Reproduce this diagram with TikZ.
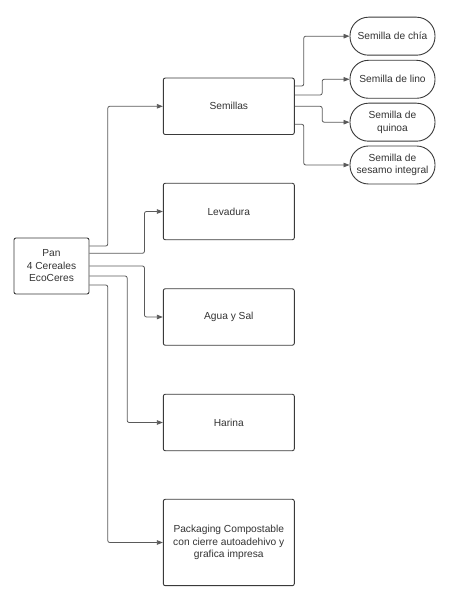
\documentclass[tikz,border=0pt]{standalone}
\usepackage{fontspec}
\setmainfont{Liberation Sans}
\usetikzlibrary{arrows.meta,calc}
\definecolor{txt}{HTML}{333333}
\definecolor{edge}{HTML}{3A3A3A}
\definecolor{conn}{HTML}{5A5A5A}
\begin{document}
\begin{tikzpicture}[x=1pt,y=1pt,
  box/.style={draw=edge,line width=0.9pt,rounded corners=2pt,fill=white,text=txt,
    font=\fontsize{10.2}{12.5}\selectfont,align=center,inner sep=1pt},
  pill/.style={draw=edge,line width=0.9pt,rounded corners=18.5pt,fill=white,text=txt,
    font=\fontsize{10.2}{12.5}\selectfont,align=center,inner sep=1pt,
    minimum width=85pt,minimum height=38pt},
  conn/.style={draw=conn,line width=0.8pt,rounded corners=2pt,
    -{Triangle[length=6pt,width=4.5pt]}}]
\useasboundingbox (0,0) rectangle (449,599);
% main node
\node[box,minimum width=75pt,minimum height=56pt] (pan) at (51.5,333) {Pan\\4 Cereales\\EcoCeres};
% ingredient boxes
\node[box,minimum width=131pt,minimum height=56.5pt] (sem) at (228.8,492.7) {Semillas};
\node[box,minimum width=131pt,minimum height=56.5pt] (lev) at (228.8,387.5) {Levadura};
\node[box,minimum width=131pt,minimum height=56.5pt] (agua) at (228.8,282) {Agua y Sal};
\node[box,minimum width=131pt,minimum height=56.5pt] (har) at (228.8,176.5) {Harina};
\node[box,minimum width=131pt,minimum height=86.4pt] (pack) at (228.8,56.5) {Packaging Compostable\\con cierre autoadehivo y\\grafica impresa};
% seeds
\node[pill] (chia) at (392.5,562.8) {Semilla de chía};
\node[pill] (lino) at (392.5,519.7) {Semilla de lino};
\node[pill] (quin) at (392.5,476.8) {Semilla de\\quinoa};
\node[pill] (ses) at (392.5,434) {Semilla de\\sesamo integral};
% connectors from pan
\draw[conn] ([yshift=20pt]pan.east) -- ++(18.3,0) |- (sem.west);
\draw[conn] ([yshift=12.7pt]pan.east) -- ++(55,0) |- (lev.west);
\draw[conn] (pan.east) -- ++(55,0) |- (agua.west);
\draw[conn] ([yshift=-10pt]pan.east) -- ++(37.7,0) |- (har.west);
\draw[conn] ([yshift=-19pt]pan.east) -- ++(18.3,0) |- (pack.west);
% connectors from semillas
\draw[conn] ([yshift=20.3pt]sem.east) -- ++(9,0) |- (chia.west);
\draw[conn] ([yshift=11.3pt]sem.east) -- ++(27.4,0) |- (lino.west);
\draw[conn] (sem.east) -- ++(27.4,0) |- (quin.west);
\draw[conn] ([yshift=-18pt]sem.east) -- ++(9,0) |- (ses.west);
\end{tikzpicture}
\end{document}
